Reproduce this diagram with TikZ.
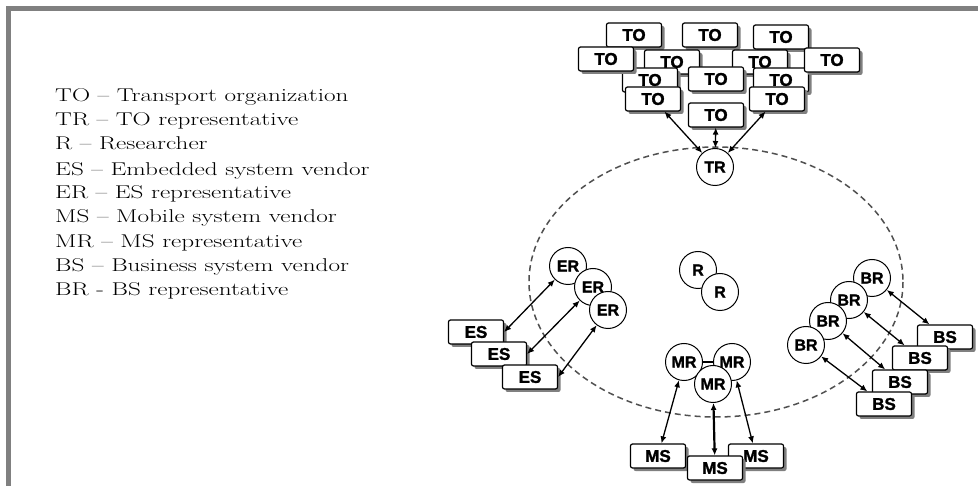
\documentclass[tikz,border=0pt]{standalone}
\usepackage{fontspec}
\usepackage{graphicx}
\usetikzlibrary{arrows.meta,shadows}
\newfontfamily\tagfont{Liberation Sans}[BoldFeatures={FakeBold=1.5}]
\definecolor{framegray}{HTML}{808080}
\definecolor{ringgray}{HTML}{505050}
\newcommand\legendtext[1]{\scalebox{1.36}[1]{#1}}

\begin{document}
\begin{tikzpicture}[x=1pt,y=-1pt,
  unit/.style={draw=black, line width=1.2pt, fill=white, rounded corners=2pt,
    minimum width=55pt, minimum height=24pt, inner sep=0pt,
    font=\tagfont\bfseries\fontsize{17}{17}\selectfont,
    drop shadow={shadow xshift=3pt, shadow yshift=-3pt, fill=framegray, opacity=1}},
  agent/.style={circle, draw=black, line width=1pt, fill=white,
    minimum size=37pt, inner sep=0pt,
    font=\tagfont\bfseries\fontsize{16}{16}\selectfont},
  link/.style={{Latex[length=7pt,width=6pt]}-{Latex[length=7pt,width=6pt]}, line width=1.3pt},
  legend/.style={anchor=base west, inner sep=0pt, font=\fontsize{18.5}{18.5}\selectfont},
  boundary/.style={draw=ringgray, line width=1.5pt, dash pattern=on 6pt off 4pt}
]
\useasboundingbox (0,0) rectangle (978,486);
\fill[white] (0,0) rectangle (978,486);

% frame bars along the top and left edges
\fill[framegray] (6,6) rectangle (978,11);
\fill[framegray] (6,6) rectangle (11,486);

% legend
\node[legend] (l1) at (55,102) {\legendtext{TO -- Transport organization}};
\node[legend] (l2) at (55,126) {\legendtext{TR -- TO representative}};
\node[legend] (l3) at (55,150) {\legendtext{R -- Researcher}};
\node[legend] (l4) at (55,176) {\legendtext{ES -- Embedded system vendor}};
\node[legend] (l5) at (55,199) {\legendtext{ER -- ES representative}};
\node[legend] (l6) at (55,223) {\legendtext{MS -- Mobile system vendor}};
\node[legend] (l7) at (55,248) {\legendtext{MR -- MS representative}};
\node[legend] (l8) at (55,272) {\legendtext{BS -- Business system vendor}};
\node[legend] (l9) at (55,296) {\legendtext{BR - BS representative}};

% cooperation boundary
\draw[boundary] (716,282) ellipse [x radius=187, y radius=135];

% transport organizations, back to front
\node[unit] (t1) at (634,35) {TO};
\node[unit] (t2) at (710,35) {TO};
\node[unit] (t3) at (781,37) {TO};
\node[unit] (t5) at (672,62) {TO};
\node[unit] (t6) at (760,62) {TO};
\node[unit] (t8) at (650,80) {TO};
\node[unit] (t10) at (781,80) {TO};
\node[unit] (t4) at (606,59) {TO};
\node[unit] (t7) at (832,60) {TO};
\node[unit] (t9) at (716,79) {TO};
\node[unit] (t11) at (653,99) {TO};
\node[unit] (t12) at (777,99) {TO};
\node[unit] (t13) at (716,115) {TO};

% representatives and researchers
\node[agent] (tr) at (715,167) {TR};
\node[agent] (r1) at (698,270) {R};
\node[agent] (r2) at (720,292) {R};

\node[agent] (er1) at (568,266) {ER};
\node[agent] (er2) at (593,287) {ER};
\node[agent] (er3) at (608,310) {ER};

\node[agent] (mr1) at (684,362) {MR};
\node[agent] (mr2) at (732,362) {MR};
\node[agent] (mr3) at (713,384) {MR};

\node[agent] (br1) at (872,278) {BR};
\node[agent] (br2) at (849,300) {BR};
\node[agent] (br3) at (828,321) {BR};
\node[agent] (br4) at (806,345) {BR};

% vendors
\node[unit] (es1) at (476,332) {ES};
\node[unit] (es2) at (499,354) {ES};
\node[unit] (es3) at (530,377) {ES};

\node[unit] (ms1) at (658,456) {MS};
\node[unit] (ms3) at (756,456) {MS};
\node[unit] (ms2) at (715,468) {MS};

\node[unit] (bs1) at (945,337) {BS};
\node[unit] (bs2) at (920,358) {BS};
\node[unit] (bs3) at (900,382) {BS};
\node[unit] (bs4) at (884,404) {BS};

% links
\draw[link] (t11) -- (tr);
\draw[link] (t13) -- (tr);
\draw[link] (t12) -- (tr);

\draw[link] (es1.east) -- (er1);
\draw[link] (es2.east) -- (er2);
\draw[link] (es3.east) -- (er3);

\draw[line width=1.2pt] (mr1) -- (mr2);
\draw[link] (mr1) -- (ms1);
\draw[link, line width=2.2pt] (mr3) -- (ms2);
\draw[link] (mr2) -- (ms3);

\draw[link] (br1) -- (bs1);
\draw[link] (br2) -- (bs2);
\draw[link] (br3) -- (bs3);
\draw[link] (br4) -- (bs4);
\end{tikzpicture}
\end{document}
